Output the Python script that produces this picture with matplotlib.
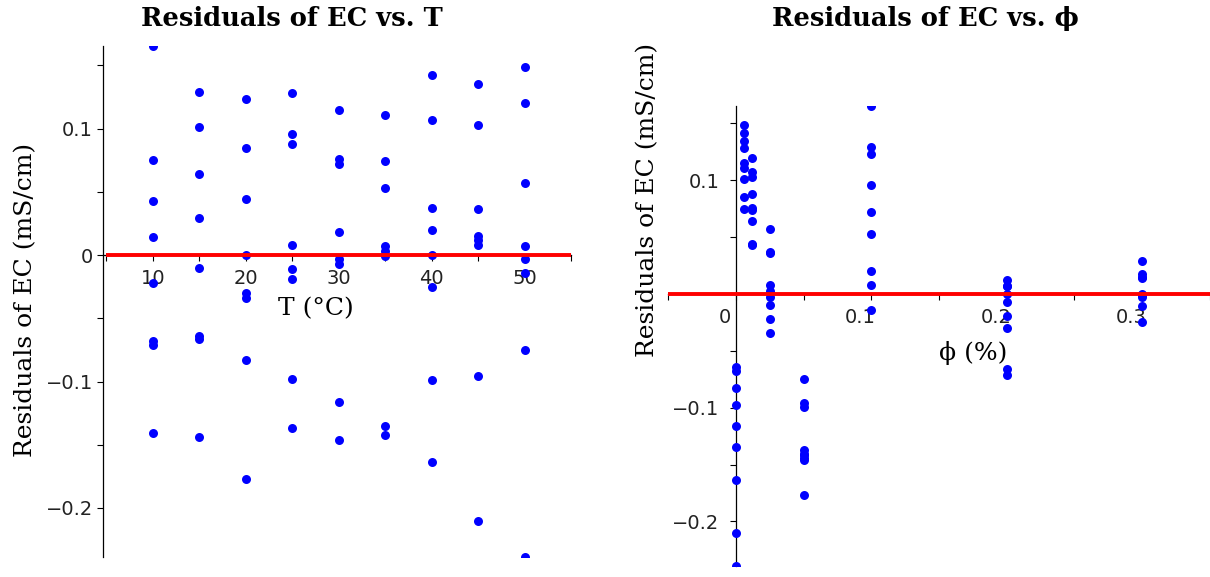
import matplotlib
matplotlib.use("Agg")
import matplotlib.pyplot as plt
import matplotlib.transforms as mtransforms
import numpy as np
from matplotlib.ticker import MultipleLocator, FuncFormatter

T = [10, 15, 20, 25, 30, 35, 40, 45, 50]
phi = [0, 0.006, 0.012, 0.025, 0.05, 0.1, 0.2, 0.3]

# residuals of EC (mS/cm), one list per temperature, in phi order
res_10 = [-0.068, 0.075, 0.043, -0.022, -0.141, 0.165, -0.071, 0.014]
res_15 = [-0.064, 0.101, 0.064, -0.010, -0.144, 0.129, -0.066, 0.029]
res_20 = [-0.083, 0.085, 0.044, -0.034, -0.177, 0.123, -0.030, 0.000]
res_25 = [-0.098, 0.128, 0.088, 0.008, -0.137, 0.096, -0.019, -0.011]
res_30 = [-0.116, 0.115, 0.076, -0.003, -0.146, 0.072, -0.007, 0.018]
res_35 = [-0.135, 0.111, 0.074, 0.003, -0.142, 0.053, 0.007, -0.001]
res_40 = [-0.164, 0.142, 0.107, 0.037, -0.099, 0.020, 0.000, -0.025]
res_45 = [-0.210, 0.135, 0.103, 0.036, -0.096, 0.008, 0.012, 0.015]
res_50 = [-0.239, 0.149, 0.120, 0.057, -0.075, -0.014, 0.007, -0.003]

res = np.array([res_10, res_15, res_20, res_25, res_30, res_35,
                res_40, res_45, res_50])

plt.rcParams['font.family'] = ['DejaVu Sans']
blue = '#0000ff'
red = '#ff0000'
ylo, yhi = res.min(), res.max()


def fmt(v, pos):
    if abs(v) < 1e-9:
        return '0'
    return ('%g' % round(v, 3)).replace('-', '\u2212')


def style(ax, ypad=3):
    for s in ['top', 'right']:
        ax.spines[s].set_visible(False)
    ax.spines['bottom'].set_position(('data', 0))
    ax.spines['left'].set_linewidth(0.9)
    ax.spines['bottom'].set_linewidth(0.9)
    ax.yaxis.set_major_locator(MultipleLocator(0.1))
    ax.yaxis.set_minor_locator(MultipleLocator(0.05))
    ax.yaxis.set_major_formatter(FuncFormatter(fmt))
    ax.tick_params(which='both', direction='out', length=4, width=0.8,
                   labelsize=14, labelcolor='#222222')
    ax.tick_params(axis='x', which='both', pad=6)
    ax.tick_params(axis='y', which='both', pad=ypad)


fig = plt.figure(figsize=(12.1, 5.77), dpi=100)

# left panel: residuals vs T
ax1 = fig.add_axes([0.0848, 0.0341, 0.3874, 0.8856])
Tcol = np.repeat(T, len(phi))
ax1.scatter(Tcol, res.ravel(), s=42, color=blue, zorder=3, linewidths=0)
ax1.hlines(0, 5, 55, color=red, lw=2.8, zorder=4)
ax1.set_xlim(4.6, 55)
ax1.set_ylim(ylo, yhi)
ax1.xaxis.set_major_locator(MultipleLocator(10))
ax1.xaxis.set_minor_locator(MultipleLocator(5))
style(ax1)
ax1.set_xlabel('T (°C)', family='DejaVu Serif', fontsize=18)
ax1.xaxis.set_label_coords(0.455, 0.51)
ax1.set_ylabel('Residuals of EC (mS/cm)', family='DejaVu Serif', fontsize=18)
ax1.yaxis.set_label_coords(-0.14, 0.5035)

# right panel: residuals vs phi
ax2 = fig.add_axes([0.5523, 0.0196, 0.4476, 0.796])
phicol = np.tile(phi, len(T))
ax2.scatter(phicol, res.ravel(), s=42, color=blue, zorder=3, linewidths=0)
ax2.axhline(0, color=red, lw=2.8, zorder=4)
ax2.set_xlim(-0.05, 0.35)
ax2.set_ylim(ylo, yhi)
ax2.spines['left'].set_position(('data', 0))
ax2.xaxis.set_major_locator(MultipleLocator(0.1))
ax2.xaxis.set_minor_locator(MultipleLocator(0.05))
ax2.xaxis.set_major_formatter(FuncFormatter(fmt))
style(ax2, ypad=8)
ax2.set_yticks([-0.2, -0.1, 0.1])
ax2.set_yticks([-0.15, -0.05, 0.05, 0.15], minor=True)
shift = mtransforms.ScaledTranslation(-11 / 100, 0, fig.dpi_scale_trans)
for tick in ax2.xaxis.get_major_ticks():
    if abs(tick.get_loc()) < 1e-9:
        tick.label1.set_transform(tick.label1.get_transform() + shift)
ax2.set_xlabel('\u03d5 (%)', family='DejaVu Serif', fontsize=18)
ax2.xaxis.set_label_coords(0.5626, 0.49)
ax2.set_ylabel('Residuals of EC (mS/cm)', family='DejaVu Serif', fontsize=18)
ax2.yaxis.set_label_coords(-0.016, 0.796)

fig.text(0.2413, 0.968, 'Residuals of EC vs. T', ha='center', va='center',
         family='DejaVu Serif', weight='bold', fontsize=18.5)
fig.text(0.7645, 0.968, 'Residuals of EC vs. \u03d5', ha='center', va='center',
         family='DejaVu Serif', weight='bold', fontsize=18.5)

fig.savefig('out.png', dpi=100)
